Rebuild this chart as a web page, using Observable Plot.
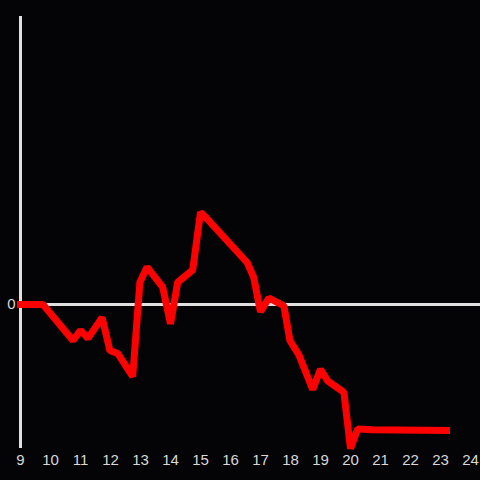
<!DOCTYPE html>
<html>
<head>
<meta charset="utf-8">
<script src="https://cdn.jsdelivr.net/npm/d3@7"></script>
<script src="https://cdn.jsdelivr.net/npm/@observablehq/plot@0.6"></script>
<style>
  html, body { margin: 0; padding: 0; background: #040406; }
  #chart { width: 480px; height: 480px; }
</style>
</head>
<body>
<div id="chart"></div>
<script>
const xs = [9, 9.75, 10.75, 11, 11.25, 11.72, 11.98, 12.24, 12.74, 12.98, 13.22, 13.74, 14.0, 14.24, 14.74, 15.0, 15.2, 16.56, 16.77, 17.0, 17.28, 17.78, 17.98, 18.28, 18.74, 19.0, 19.24, 19.78, 20.0, 20.24, 20.72, 23.2];
const ys = [0, 0, -0.25, -0.18, -0.235, -0.09, -0.32, -0.34, -0.5, 0.155, 0.26, 0.12, -0.134, 0.155, 0.24, 0.64, 0.6, 0.29, 0.19, -0.05, 0.045, -0.01, -0.25, -0.35, -0.59, -0.45, -0.53, -0.61, -1.0, -0.865, -0.87, -0.875];
const xTicks = [9, 10, 11, 12, 13, 14, 15, 16, 17, 18, 19, 20, 21, 22, 23, 24];
const yTicks = [0];

const data = xs.map((x, i) => ({x, y: ys[i]}));

const chart = Plot.plot({
  width: 480,
  height: 480,
  marginLeft: 20,
  marginRight: 10,
  marginTop: 16,
  marginBottom: 32,
  style: {background: "#040406", color: "#d8d8d8", fontFamily: "'Liberation Sans', Arial, sans-serif", fontSize: "15px"},
  x: {domain: [9, 24], ticks: xTicks, tickFormat: d => String(d)},
  y: {domain: [-1, 2], ticks: yTicks, tickFormat: d => String(d)},
  marks: [
    Plot.ruleY([0], {x1: 9, x2: 24.4, stroke: "#e0e0e0", strokeWidth: 3, clip: false}),
    Plot.ruleX([9], {y1: -1, y2: 2, stroke: "#e0e0e0", strokeWidth: 3}),
    Plot.line(data, {x: "x", y: "y", stroke: "#ff0000", strokeWidth: 7, strokeLinejoin: "miter", strokeLinecap: "square"}),
    Plot.axisX({ticks: xTicks, tickFormat: d => String(d), tickSize: 0, tickPadding: 6, label: null, fill: "#d8d8d8", fontSize: 15}),
    Plot.axisY({ticks: yTicks, tickFormat: d => String(d), tickSize: 0, tickPadding: 5, label: null, fill: "#d8d8d8", fontSize: 15})
  ]
});
document.getElementById("chart").appendChild(chart);
</script>
</body>
</html>
